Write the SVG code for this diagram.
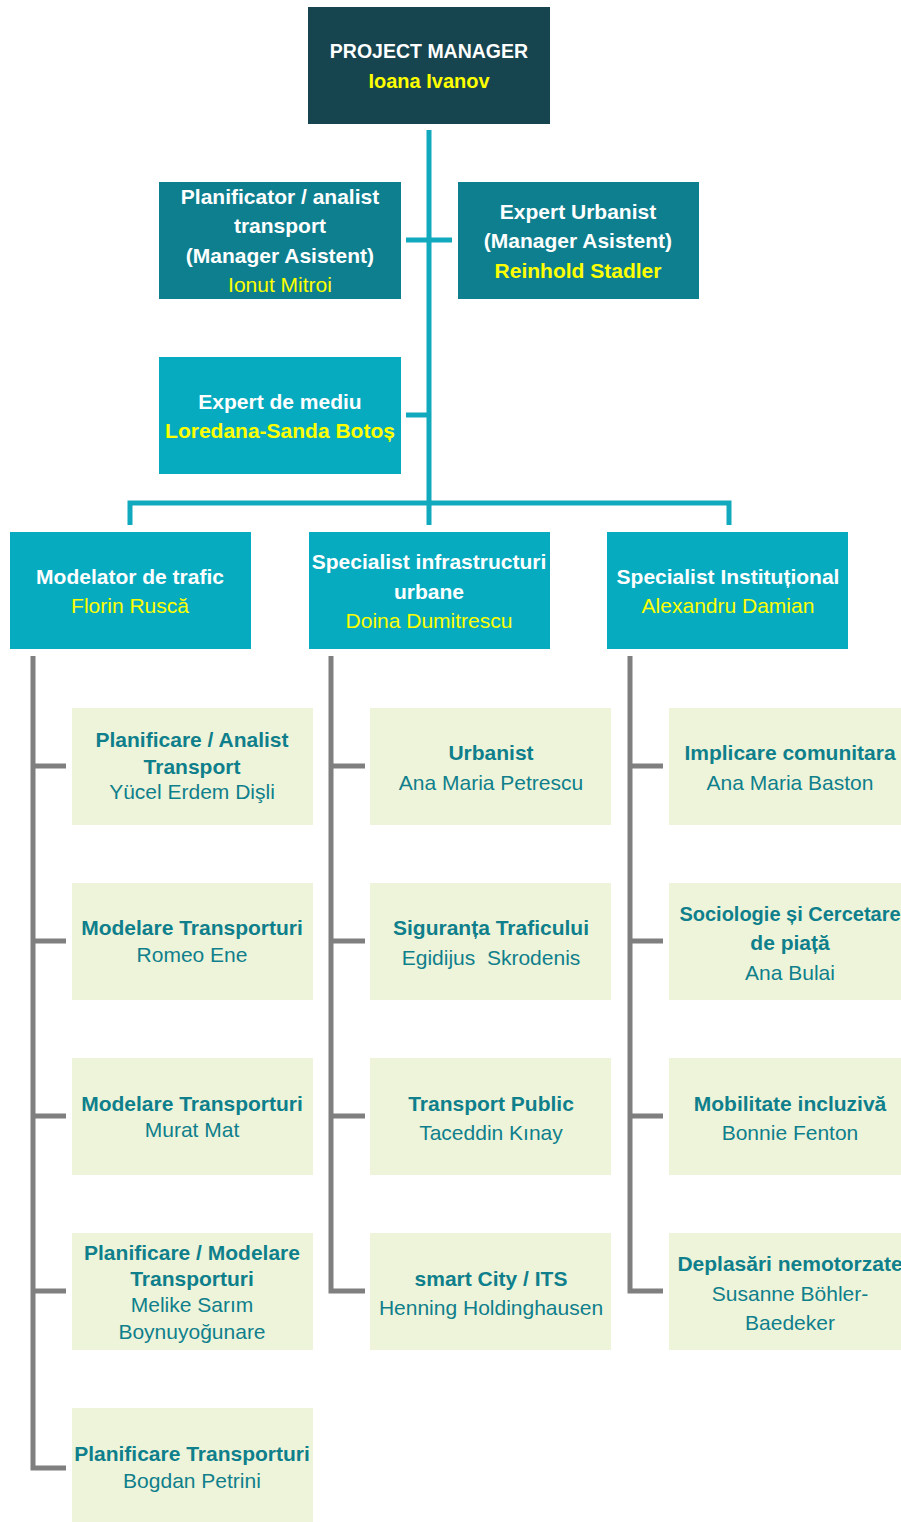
<svg xmlns="http://www.w3.org/2000/svg" width="901" height="1522" viewBox="0 0 901 1522">
<style>
text{font-family:"Liberation Sans",Arial,sans-serif;font-size:21px;text-anchor:middle}
.b{font-weight:bold}
.w{fill:#ffffff}
.y{fill:#ffff00}
.t{fill:#0f7f8c}
.dark{fill:#16444f}
.mid{fill:#0e7f8f}
.lt{fill:#07abbf}
.ch{fill:#eef4da}
.tc{stroke:#11a9be;stroke-width:5;fill:none}
.gc{stroke:#7f7f7f;stroke-width:5;fill:none}
</style>
<rect width="901" height="1522" fill="#ffffff"/>
<g id="connectors">
<path class="tc" d="M429 130V525M406 240H452M406 415H429M130 525V503H729V525"/>
<path class="gc" d="M33 656V1468H66M33 766H66M33 941H66M33 1116H66M33 1291H66"/>
<path class="gc" d="M331 656V1291H365M331 766H365M331 941H365M331 1116H365"/>
<path class="gc" d="M630 656V1291H663M630 766H663M630 941H663M630 1116H663"/>
</g>
<g id="pm"><rect class="dark" x="308" y="7" width="242" height="117"/>
<text class="b w" x="429" y="58" style="font-size:19.5px">PROJECT MANAGER</text>
<text class="b y" x="429" y="88" style="font-size:20px">Ioana Ivanov</text></g>
<g id="planificator"><rect class="mid" x="159" y="182" width="242" height="117"/>
<text class="b w" x="280" y="204">Planificator / analist</text>
<text class="b w" x="280" y="233">transport</text>
<text class="b w" x="280" y="263">(Manager Asistent)</text>
<text class="y" x="280" y="292">Ionut Mitroi</text></g>
<g id="urbanist-expert"><rect class="mid" x="458" y="182" width="241" height="117"/>
<text class="b w" x="578" y="219">Expert Urbanist</text>
<text class="b w" x="578" y="248">(Manager Asistent)</text>
<text class="b y" x="578" y="278">Reinhold Stadler</text></g>
<g id="mediu"><rect class="lt" x="159" y="357" width="242" height="117"/>
<text class="b w" x="280" y="409">Expert de mediu</text>
<text class="b y" x="280" y="438">Loredana-Sanda Botoș</text></g>
<g id="modelator"><rect class="lt" x="10" y="532" width="241" height="117"/>
<text class="b w" x="130" y="584">Modelator de trafic</text>
<text class="y" x="130" y="613">Florin Ruscă</text></g>
<g id="infra"><rect class="lt" x="309" y="532" width="241" height="117"/>
<text class="b w" x="429" y="569">Specialist infrastructuri</text>
<text class="b w" x="429" y="599">urbane</text>
<text class="y" x="429" y="628">Doina Dumitrescu</text></g>
<g id="institutional"><rect class="lt" x="607" y="532" width="241" height="117"/>
<text class="b w" x="728" y="584">Specialist Instituțional</text>
<text class="y" x="728" y="613">Alexandru Damian</text></g>
<g id="c1r1"><rect class="ch" x="72" y="708" width="241" height="117"/>
<text class="b t" x="192" y="747">Planificare / Analist</text>
<text class="b t" x="192" y="774">Transport</text>
<text class="t" x="192" y="799">Yücel Erdem Dişli</text></g>
<g id="c1r2"><rect class="ch" x="72" y="883" width="241" height="117"/>
<text class="b t" x="192" y="935">Modelare Transporturi</text>
<text class="t" x="192" y="962">Romeo Ene</text></g>
<g id="c1r3"><rect class="ch" x="72" y="1058" width="241" height="117"/>
<text class="b t" x="192" y="1111">Modelare Transporturi</text>
<text class="t" x="192" y="1137">Murat Mat</text></g>
<g id="c1r4"><rect class="ch" x="72" y="1233" width="241" height="117"/>
<text class="b t" x="192" y="1260">Planificare / Modelare</text>
<text class="b t" x="192" y="1286">Transporturi</text>
<text class="t" x="192" y="1312">Melike Sarım</text>
<text class="t" x="192" y="1339">Boynuyoğunare</text></g>
<g id="c1r5"><rect class="ch" x="72" y="1408" width="241" height="114"/>
<text class="b t" x="192" y="1461">Planificare Transporturi</text>
<text class="t" x="192" y="1488">Bogdan Petrini</text></g>
<g id="c2r1"><rect class="ch" x="370" y="708" width="241" height="117"/>
<text class="b t" x="491" y="760">Urbanist</text>
<text class="t" x="491" y="790">Ana Maria Petrescu</text></g>
<g id="c2r2"><rect class="ch" x="370" y="883" width="241" height="117"/>
<text class="b t" x="491" y="935">Siguranța Traficului</text>
<text class="t" x="491" y="965" xml:space="preserve">Egidijus  Skrodenis</text></g>
<g id="c2r3"><rect class="ch" x="370" y="1058" width="241" height="117"/>
<text class="b t" x="491" y="1111">Transport Public</text>
<text class="t" x="491" y="1140">Taceddin Kınay</text></g>
<g id="c2r4"><rect class="ch" x="370" y="1233" width="241" height="117"/>
<text class="b t" x="491" y="1286">smart City / ITS</text>
<text class="t" x="491" y="1315">Henning Holdinghausen</text></g>
<g id="c3r1"><rect class="ch" x="669" y="708" width="241" height="117"/>
<text class="b t" x="790" y="760">Implicare comunitara</text>
<text class="t" x="790" y="790">Ana Maria Baston</text></g>
<g id="c3r2"><rect class="ch" x="669" y="883" width="241" height="117"/>
<text class="b t" x="790" y="921" style="font-size:20px">Sociologie și Cercetare</text>
<text class="b t" x="790" y="950">de piață</text>
<text class="t" x="790" y="980">Ana Bulai</text></g>
<g id="c3r3"><rect class="ch" x="669" y="1058" width="241" height="117"/>
<text class="b t" x="790" y="1111">Mobilitate incluzivă</text>
<text class="t" x="790" y="1140">Bonnie Fenton</text></g>
<g id="c3r4"><rect class="ch" x="669" y="1233" width="241" height="117"/>
<text class="b t" x="790" y="1271">Deplasări nemotorzate</text>
<text class="t" x="790" y="1301">Susanne Böhler-</text>
<text class="t" x="790" y="1330">Baedeker</text></g>
</svg>
